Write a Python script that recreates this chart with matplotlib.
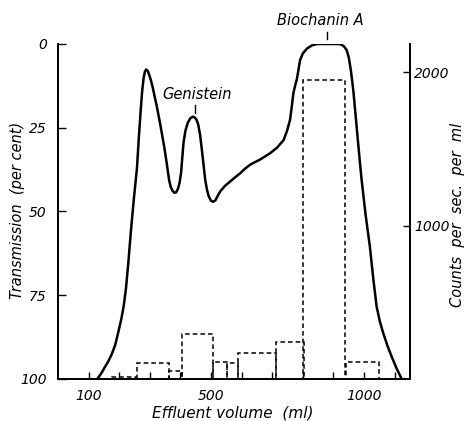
"""Elution profile of isoflavones: transmission trace with radioactivity histogram."""

import matplotlib.pyplot as plt

# transmission trace (effluent volume in ml, transmission in per cent)
VOLUME_ML = [128, 140, 154, 165, 176, 187, 197, 207, 215, 222, 230, 238, 248, 258,
             264, 270, 275, 280, 284, 288, 293, 298, 304, 310, 316, 323, 335,
             347, 355, 363, 368, 374, 380, 386, 392, 397, 402, 406, 410, 416,
             424, 432, 440, 446, 452, 458, 464, 470, 476, 481, 487, 493, 500,
             507, 514, 522, 530, 545, 563, 580, 595, 610, 628, 660, 693, 715,
             737, 748, 758, 764, 769, 775, 780, 786, 791, 800, 814, 830, 846,
             880, 915, 927, 935, 943, 950, 957, 965, 975, 985, 992, 1005, 1019,
             1030, 1041, 1052, 1063, 1076, 1090, 1106, 1123]
TRANSMISSION = [100, 98.5, 96.3, 94.6, 92.5, 89.8, 86, 82, 78, 73, 65, 56, 46, 37,
                28, 20, 14, 10, 8.2, 7.6, 8, 9.2, 11, 13.2, 15.8, 18.7, 24.5,
                30.7, 35.5, 40.6, 42.6, 43.8, 44.4, 44.3, 43.2, 41.5, 38.5, 34, 29.5, 26,
                23.5, 22.2, 21.7, 21.9, 22.5, 24, 27, 31.6, 36.5, 40.6, 43.6, 45.6, 46.8,
                47.1, 46.7, 45.3, 44, 42.4, 41, 39.7, 38.6, 37.3, 36, 34.5, 32.6, 31,
                28.7, 26, 22.7, 18.5, 14.7, 12.3, 10.7, 7.5, 4.8, 2.8, 1.3, 0.4, 0,
                0, 0, 0.2, 0.8, 1.8, 4, 8, 14, 24, 34, 40.6, 51, 60.5,
                70, 78.4, 83, 86.4, 90, 93.3, 96.8, 100]

# radioactivity histogram (fraction edges in ml, counts per sec. per ml)
BIN_LEFT = [178, 258, 361, 405, 508, 552, 588, 712, 802, 940]
BIN_RIGHT = [255, 361, 405, 508, 552, 588, 712, 805, 938, 1049]
COUNTS = [15, 106, 52, 291, 113, 102, 167, 239, 1949, 113]

X_TICKS = list(range(100, 1101, 100))
X_LABELS = {100: "100", 500: "500", 1000: "1000"}
T_TICKS = [0, 25, 50, 75, 100]
C_TICKS = [1000, 2000]

FONT = dict(fontstyle="italic", family="DejaVu Sans")

fig = plt.figure(figsize=(4.66, 4.21), dpi=100)
ax = fig.add_axes([0.1245, 0.0998, 0.7553, 0.7957])
ax2 = ax.twinx()

ax.plot(VOLUME_ML, TRANSMISSION, color="black", linewidth=1.8,
        solid_capstyle="round", solid_joinstyle="round", zorder=3)
ax.set_xlim(0, 1150)
ax.set_ylim(100, 0)

widths = [r - l for l, r in zip(BIN_LEFT, BIN_RIGHT)]
ax2.bar(BIN_LEFT, COUNTS, width=widths, align="edge", fill=False,
        edgecolor="black", linestyle=(0, (3, 2)), linewidth=1.1)
ax2.set_ylim(0, 2185)

for a in (ax, ax2):
    a.spines["top"].set_visible(False)
    for s in a.spines.values():
        s.set_linewidth(1.3)

ax.set_xticks(X_TICKS)
ax.set_xticklabels([X_LABELS.get(t, "") for t in X_TICKS], fontsize=10, **FONT)
ax.tick_params(axis="x", direction="in", length=5, width=1, pad=7)
ax.set_yticks(T_TICKS)
ax.set_yticklabels([str(t) for t in T_TICKS], fontsize=10, **FONT)
ax.tick_params(axis="y", direction="in", length=6, width=1, pad=8)
ax2.set_yticks(C_TICKS)
ax2.set_yticklabels([str(t) for t in C_TICKS], fontsize=10, **FONT)
ax2.tick_params(axis="y", direction="in", length=5, width=1, pad=3)

ax.set_xlabel("Effluent volume  (ml)", fontsize=11, **FONT)
ax.xaxis.set_label_coords(0.497, -0.1015)
ax.xaxis.label.set_va("center")
ax.set_ylabel("Transmission  (per cent)", fontsize=10.5, **FONT)
ax.yaxis.set_label_coords(-0.1165, 0.504)
ax.yaxis.label.set_va("center")
ax2.set_ylabel("Counts  per  sec.  per  ml", fontsize=10.5, **FONT)
ax2.yaxis.set_label_coords(1.134, 0.49)
ax2.yaxis.label.set_va("center")

ax.text(454, 15, "Genistein", ha="center", va="center", fontsize=10.5, **FONT)
ax.plot([446, 446], [18.2, 20.6], color="black", linewidth=1)
ax.text(856, -7, "Biochanin A", ha="center", va="center", fontsize=10.5,
        clip_on=False, **FONT)
ax.plot([880, 880], [-3.6, -1.6], color="black", linewidth=1, clip_on=False)

fig.savefig("out.png", dpi=100)
